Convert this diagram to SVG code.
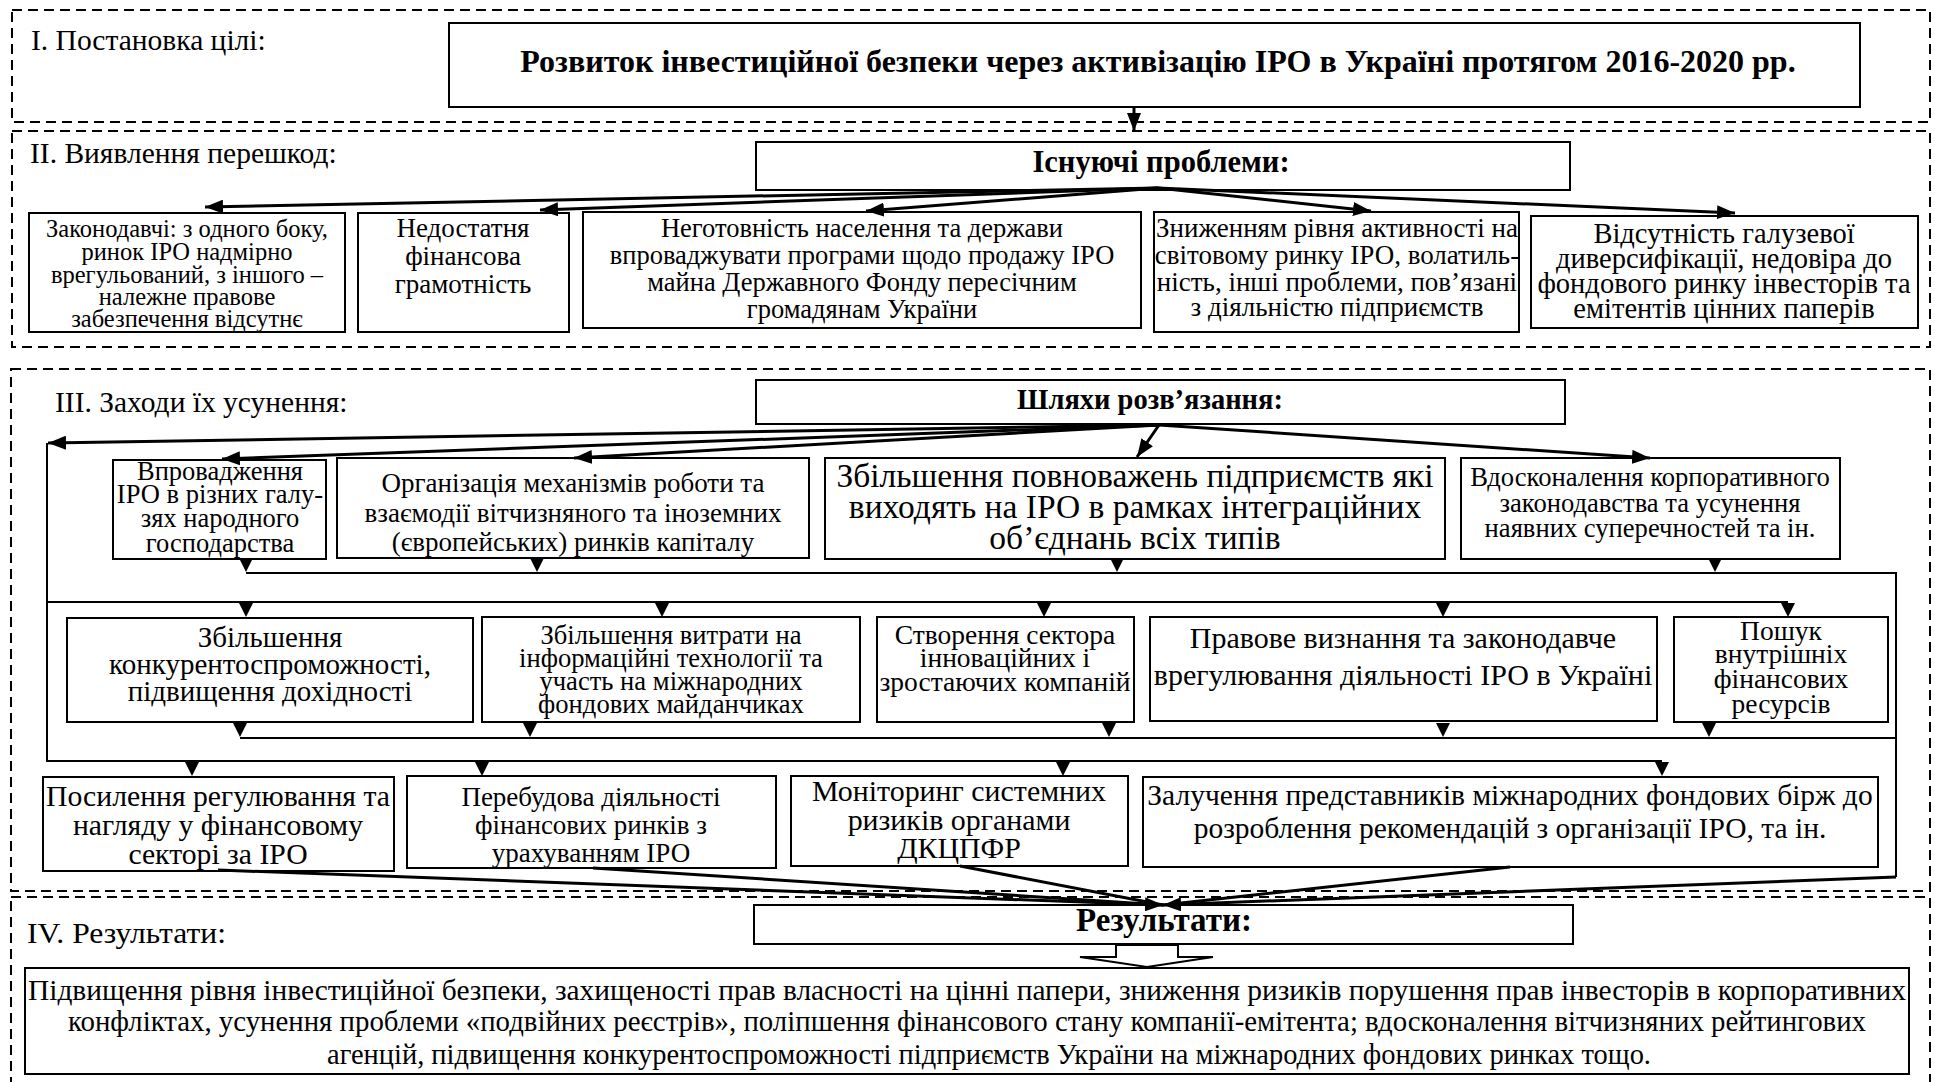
<svg xmlns="http://www.w3.org/2000/svg" xmlns:xlink="http://www.w3.org/1999/xlink" width="1935" height="1082" viewBox="0 0 1935 1082">
<style>
text{font-family:"Liberation Serif","Times New Roman",serif;fill:#000}
.lbl{font-size:29.5px}
.b{font-weight:bold}
.c{text-anchor:middle}
.box{fill:#fff;stroke:#000;stroke-width:2}
.sec{fill:none;stroke:#000;stroke-width:2;stroke-dasharray:10 6}
.thick{fill:none;stroke:#000;stroke-width:3}
.thin{fill:none;stroke:#000;stroke-width:2}
</style>
<defs>
<marker id="ah" markerUnits="userSpaceOnUse" markerWidth="18" markerHeight="14" refX="18" refY="7" orient="auto"><path d="M0,0 L18,7 L0,14 z" fill="#000"/></marker>
<path id="tri" d="M-7,-14 L7,-14 L0,0 z" fill="#000"/>
</defs>
<rect width="1935" height="1082" fill="#fff"/>
<g id="sections">
<rect class="sec" x="12" y="10" width="1918" height="112"/>
<rect class="sec" x="12" y="131" width="1918" height="216"/>
<rect class="sec" x="11" y="369" width="1919" height="522"/>
<rect class="sec" x="11" y="897" width="1919" height="200"/>
<text class="lbl" x="31" y="50">I. Постановка цілі:</text>
<text class="lbl" x="30" y="163" font-size="28.7">II. Виявлення перешкод:</text>
<text class="lbl" x="55" y="412">III. Заходи їх усунення:</text>
<text class="lbl" x="27" y="943" font-size="32" textLength="199" lengthAdjust="spacingAndGlyphs">IV. Результати:</text>
</g>
<g id="goal">
<rect class="box" x="449" y="23" width="1411" height="84"/>
<text class="c b" x="1158" y="72" font-size="32">Розвиток інвестиційної безпеки через активізацію ІРО в Україні протягом 2016-2020 рр.</text>
</g>
<g id="problems">
<rect class="box" x="756" y="142" width="814" height="48"/>
<text class="c b" x="1161" y="172" font-size="30.5">Існуючі проблеми:</text>
</g>
<g id="p1" font-size="24.5">
<rect class="box" x="29" y="213" width="316" height="119"/>
<text class="c" x="187" y="237">Законодавчі: з одного боку,</text>
<text class="c" x="187" y="260">ринок ІРО надмірно</text>
<text class="c" x="187" y="283">врегульований, з іншого –</text>
<text class="c" x="187" y="305">належне правове</text>
<text class="c" x="187" y="327">забезпечення відсутнє</text>
</g>
<g id="p2" font-size="27">
<rect class="box" x="358" y="213" width="211" height="119"/>
<text class="c" x="463" y="237">Недостатня</text>
<text class="c" x="463" y="265">фінансова</text>
<text class="c" x="463" y="293">грамотність</text>
</g>
<g id="p3" font-size="26.5">
<rect class="box" x="583" y="212" width="558" height="116"/>
<text class="c" x="862" y="237">Неготовність населення та держави</text>
<text class="c" x="862" y="264">впроваджувати програми щодо продажу ІРО</text>
<text class="c" x="862" y="291">майна Державного Фонду пересічним</text>
<text class="c" x="862" y="318">громадянам України</text>
</g>
<g id="p4" font-size="27">
<rect class="box" x="1154" y="212" width="365" height="120"/>
<text class="c" x="1337" y="237">Зниженням рівня активності на</text>
<text class="c" x="1337" y="264">світовому ринку ІРО, волатиль-</text>
<text class="c" x="1337" y="291">ність, інші проблеми, пов’язані</text>
<text class="c" x="1337" y="316">з діяльністю підприємств</text>
</g>
<g id="p5" font-size="28.5">
<rect class="box" x="1531" y="216" width="387" height="112"/>
<text class="c" x="1724" y="243">Відсутність галузевої</text>
<text class="c" x="1724" y="268">диверсифікації, недовіра до</text>
<text class="c" x="1724" y="293">фондового ринку інвесторів та</text>
<text class="c" x="1724" y="318">емітентів цінних паперів</text>
</g>
<g id="ways">
<rect class="box" x="756" y="380" width="809" height="44"/>
<text class="c b" x="1150" y="409" font-size="28.5">Шляхи розв’язання:</text>
</g>
<g id="b1" font-size="26.5">
<rect class="box" x="113" y="460" width="213" height="99"/>
<text class="c" x="220" y="480">Впровадження</text>
<text class="c" x="220" y="503">ІРО в різних галу-</text>
<text class="c" x="220" y="527">зях народного</text>
<text class="c" x="220" y="552">господарства</text>
</g>
<g id="b2" font-size="27">
<rect class="box" x="337" y="458" width="472" height="100"/>
<text class="c" x="573" y="492">Організація механізмів роботи та</text>
<text class="c" x="573" y="522">взаємодії вітчизняного та іноземних</text>
<text class="c" x="573" y="551">(європейських) ринків капіталу</text>
</g>
<g id="b3" font-size="33.5">
<rect class="box" x="825" y="458" width="620" height="101"/>
<text class="c" x="1135" y="487">Збільшення повноважень підприємств які</text>
<text class="c" x="1135" y="518">виходять на ІРО в рамках інтеграційних</text>
<text class="c" x="1135" y="549">об’єднань всіх типів</text>
</g>
<g id="b4" font-size="26.6">
<rect class="box" x="1461" y="458" width="379" height="101"/>
<text class="c" x="1650" y="486">Вдосконалення корпоративного</text>
<text class="c" x="1650" y="512">законодавства та усунення</text>
<text class="c" x="1650" y="537">наявних суперечностей та ін.</text>
</g>
<g id="c1" font-size="29">
<rect class="box" x="67" y="618" width="406" height="104"/>
<text class="c" x="270" y="647">Збільшення</text>
<text class="c" x="270" y="674">конкурентоспроможності,</text>
<text class="c" x="270" y="701">підвищення дохідності</text>
</g>
<g id="c2" font-size="26.6">
<rect class="box" x="482" y="617" width="378" height="105"/>
<text class="c" x="671" y="644">Збільшення витрати на</text>
<text class="c" x="671" y="667">інформаційні технології та</text>
<text class="c" x="671" y="690">участь на міжнародних</text>
<text class="c" x="671" y="713">фондових майданчиках</text>
</g>
<g id="c3" font-size="27.5">
<rect class="box" x="877" y="617" width="257" height="105"/>
<text class="c" x="1005" y="644">Створення сектора</text>
<text class="c" x="1005" y="667">інноваційних і</text>
<text class="c" x="1005" y="691">зростаючих компаній</text>
</g>
<g id="c4" font-size="30">
<rect class="box" x="1150" y="617" width="507" height="104"/>
<text class="c" x="1403" y="648">Правове визнання та законодавче</text>
<text class="c" x="1403" y="685">врегулювання діяльності ІРО в Україні</text>
</g>
<g id="c5" font-size="27.5">
<rect class="box" x="1674" y="617" width="214" height="105"/>
<text class="c" x="1781" y="640">Пошук</text>
<text class="c" x="1781" y="663">внутрішніх</text>
<text class="c" x="1781" y="688">фінансових</text>
<text class="c" x="1781" y="713">ресурсів</text>
</g>
<g id="d1" font-size="29.7">
<rect class="box" x="43" y="777" width="351" height="94"/>
<text class="c" x="218" y="806">Посилення регулювання та</text>
<text class="c" x="218" y="835">нагляду у фінансовому</text>
<text class="c" x="218" y="864">секторі за ІРО</text>
</g>
<g id="d2" font-size="27">
<rect class="box" x="407" y="776" width="369" height="92"/>
<text class="c" x="591" y="806">Перебудова діяльності</text>
<text class="c" x="591" y="834">фінансових ринків з</text>
<text class="c" x="591" y="862">урахуванням ІРО</text>
</g>
<g id="d3" font-size="29.9">
<rect class="box" x="791" y="776" width="337" height="90"/>
<text class="c" x="959" y="801">Моніторинг системних</text>
<text class="c" x="959" y="830">ризиків органами</text>
<text class="c" x="959" y="858">ДКЦПФР</text>
</g>
<g id="d4" font-size="29.5">
<rect class="box" x="1143" y="777" width="735" height="90"/>
<text class="c" x="1510" y="805">Залучення представників міжнародних фондових бірж до</text>
<text class="c" x="1510" y="838">розроблення рекомендацій з організації ІРО, та ін.</text>
</g>
<g id="results">
<rect class="box" x="754" y="905" width="819" height="39"/>
<text class="c b" x="1164" y="931" font-size="33">Результати:</text>
</g>
<g id="outcome" font-size="29.4">
<rect class="box" x="25" y="968" width="1884" height="106"/>
<text class="c" x="967" y="1000">Підвищення рівня інвестиційної безпеки, захищеності прав власності на цінні папери, зниження ризиків порушення прав інвесторів в корпоративних</text>
<text class="c" x="967" y="1031" textLength="1798" lengthAdjust="spacingAndGlyphs">конфліктах, усунення проблеми «подвійних реєстрів», поліпшення фінансового стану компанії-емітента; вдосконалення вітчизняних рейтингових</text>
<text class="c" x="989" y="1064" textLength="1324" lengthAdjust="spacingAndGlyphs">агенцій, підвищення конкурентоспроможності підприємств України на міжнародних фондових ринках тощо.</text>
</g>
<g id="connectors">
<path class="thick" d="M1134,107 V131" marker-end="url(#ah)"/>
<path class="thick" d="M1158,188 L205,207" marker-end="url(#ah)"/>
<path class="thick" d="M1158,188 L540,210" marker-end="url(#ah)"/>
<path class="thick" d="M1158,188 L866,211" marker-end="url(#ah)"/>
<path class="thick" d="M1158,188 L1371,211" marker-end="url(#ah)"/>
<path class="thick" d="M1158,188 L1735,213" marker-end="url(#ah)"/>
<path class="thick" d="M1159,425 L48,443" marker-end="url(#ah)"/>
<path class="thick" d="M1159,425 L222,459" marker-end="url(#ah)"/>
<path class="thick" d="M1159,425 L574,458" marker-end="url(#ah)"/>
<path class="thick" d="M1159,425 L1137,457" marker-end="url(#ah)"/>
<path class="thick" d="M1159,425 L1650,458" marker-end="url(#ah)"/>
<path class="thin" d="M47,443 V761 H1662"/>
<path class="thin" d="M47,602 H1788"/>
<path class="thin" d="M246,573 H1896 V877"/>
<path class="thin" d="M240,738 H1896"/>
<path class="thick" d="M1896,877 L1163,905" marker-end="url(#ah)"/>
<path class="thick" d="M218,870 L1163,905" marker-end="url(#ah)"/>
<path class="thick" d="M593,868 L1163,905"/>
<path class="thick" d="M960,866 L1163,905"/>
<path class="thick" d="M1510,867 L1163,905"/>
<use xlink:href="#tri" x="246" y="572"/>
<use xlink:href="#tri" x="537" y="572"/>
<use xlink:href="#tri" x="1117" y="572"/>
<use xlink:href="#tri" x="1715" y="572"/>
<use xlink:href="#tri" x="246" y="617"/>
<use xlink:href="#tri" x="662" y="617"/>
<use xlink:href="#tri" x="1044" y="617"/>
<use xlink:href="#tri" x="1443" y="617"/>
<use xlink:href="#tri" x="1788" y="617"/>
<use xlink:href="#tri" x="240" y="737"/>
<use xlink:href="#tri" x="530" y="737"/>
<use xlink:href="#tri" x="1109" y="737"/>
<use xlink:href="#tri" x="1443" y="737"/>
<use xlink:href="#tri" x="1709" y="737"/>
<use xlink:href="#tri" x="192" y="776"/>
<use xlink:href="#tri" x="482" y="776"/>
<use xlink:href="#tri" x="1063" y="776"/>
<use xlink:href="#tri" x="1662" y="776"/>
<path d="M1116,945 H1178 V957 H1213 L1147,967 L1080,957 H1116 Z" fill="#fff" stroke="#000" stroke-width="2"/>
</g>
</svg>
